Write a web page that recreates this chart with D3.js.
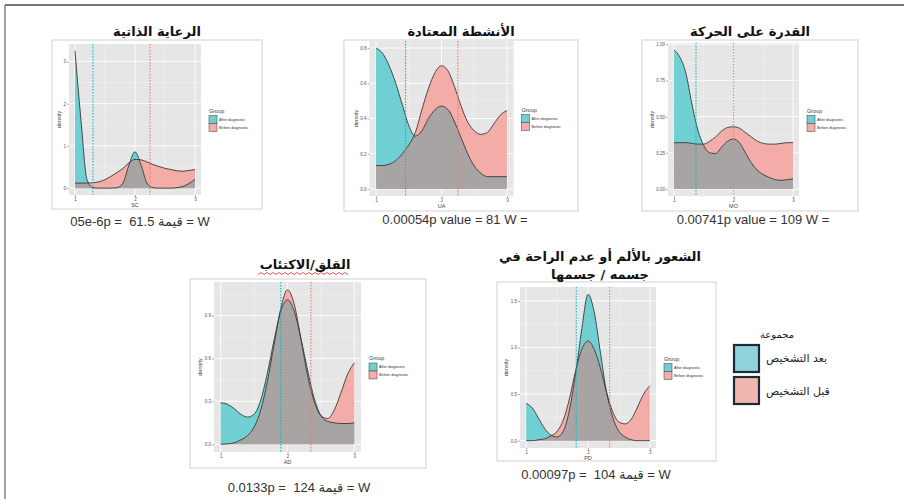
<!DOCTYPE html>
<html>
<head>
<meta charset="utf-8">
<script src="https://cdn.jsdelivr.net/npm/d3@7/dist/d3.min.js"></script>
<style>
  body { margin: 0; background: #fff; }
  svg { display: block; }
</style>
</head>
<body>
<div id="chart"></div>
<script>
// density curves sampled at these x positions (scale 1..3)
const densityX = [1.0, 1.1, 1.2, 1.3, 1.4, 1.5, 1.6, 1.7, 1.8, 1.9, 2.0,
                  2.1, 2.2, 2.3, 2.4, 2.5, 2.6, 2.7, 2.8, 2.9, 3.0];

const scAfter  = [3.25, 1.6, 0.2, 0.01, 0, 0, 0, 0.01, 0.12, 0.55, 0.86, 0.55, 0.12, 0.01, 0, 0, 0, 0.01, 0.04, 0.11, 0.21];
const scBefore = [0.12, 0.12, 0.12, 0.13, 0.15, 0.2, 0.28, 0.37, 0.47, 0.6, 0.68, 0.67, 0.62, 0.56, 0.51, 0.47, 0.44, 0.41, 0.4, 0.42, 0.44];

const uaAfter  = [0.8, 0.77, 0.7, 0.6, 0.48, 0.36, 0.3, 0.33, 0.4, 0.45, 0.47, 0.45, 0.38, 0.29, 0.2, 0.13, 0.09, 0.07, 0.07, 0.07, 0.07];
const uaBefore = [0.133, 0.133, 0.14, 0.16, 0.2, 0.25, 0.32, 0.45, 0.57, 0.66, 0.7, 0.67, 0.58, 0.47, 0.38, 0.33, 0.31, 0.32, 0.37, 0.42, 0.445];

const moAfter  = [0.96, 0.91, 0.8, 0.59, 0.41, 0.3, 0.25, 0.245, 0.29, 0.33, 0.345, 0.32, 0.25, 0.18, 0.13, 0.1, 0.08, 0.065, 0.06, 0.065, 0.07];
const moBefore = [0.32, 0.32, 0.32, 0.315, 0.31, 0.31, 0.33, 0.36, 0.4, 0.425, 0.43, 0.42, 0.39, 0.36, 0.33, 0.315, 0.31, 0.31, 0.315, 0.32, 0.32];

const adAfter  = [0.29, 0.28, 0.25, 0.21, 0.19, 0.21, 0.31, 0.5, 0.73, 0.93, 1.01, 0.93, 0.74, 0.52, 0.32, 0.2, 0.16, 0.15, 0.145, 0.145, 0.15];
const adBefore = [0.0, 0.003, 0.01, 0.03, 0.06, 0.12, 0.24, 0.44, 0.7, 0.95, 1.08, 0.98, 0.74, 0.48, 0.3, 0.2, 0.18, 0.24, 0.36, 0.49, 0.57];

const pdAfter  = [0.4, 0.35, 0.24, 0.13, 0.06, 0.04, 0.1, 0.33, 0.72, 1.2, 1.57, 1.38, 0.95, 0.52, 0.25, 0.1, 0.04, 0.01, 0, 0, 0];
const pdBefore = [0, 0, 0.01, 0.02, 0.05, 0.1, 0.22, 0.45, 0.75, 0.98, 1.07, 0.98, 0.78, 0.52, 0.31, 0.2, 0.18, 0.23, 0.36, 0.5, 0.59];

const axisNames = ['SC', 'UA', 'MO', 'AD', 'PD'];
const panelTitles = [
  ['الرعاية الذاتية'],
  ['الأنشطة المعتادة'],
  ['القدرة على الحركة'],
  ['القلق/الاكتئاب'],
  ['الشعور بالألم أو عدم الراحة في', 'جسمه / جسمها']
];
const captions = [
  '05e-6p =  61.5 قيمة = W',
  '0.00054p value = 81 W =',
  '0.00741p value = 109 W =',
  '0.0133p =  124 قيمة = W',
  '0.00097p =  104 قيمة = W'
];
const meanAfter  = [1.3, 1.45, 1.37, 1.9, 1.81];
const meanBefore = [2.25, 2.25, 2.0, 2.35, 2.35];

const xTicks = [1, 2, 3];
const yTicks = [
  [0, 1, 2, 3],
  [0, 0.2, 0.4, 0.6, 0.8],
  [0, 0.25, 0.5, 0.75, 1],
  [0, 0.3, 0.6, 0.9],
  [0, 0.5, 1, 1.5]
];
const yTickLabels = [
  ['0', '1', '2', '3'],
  ['0.0', '0.2', '0.4', '0.6', '0.8'],
  ['0.00', '0.25', '0.50', '0.75', '1.00'],
  ['0.0', '0.3', '0.6', '0.9'],
  ['0.0', '0.5', '1.0', '1.5']
];
const groupLabels = ['After diagnostic', 'Before diagnostic'];
const legendTitleAr = 'مجموعة';
const legendLabelsAr = ['بعد التشخيص', 'قبل التشخيص'];

const afterSeries = [scAfter, uaAfter, moAfter, adAfter, pdAfter];
const beforeSeries = [scBefore, uaBefore, moBefore, adBefore, pdBefore];

// page positions of each small ggplot image
const layout = [
  {frame: [52, 40, 262, 209], plot: [69, 44, 201, 195], titleX: 157, titleY: 36, capX: 140, capY: 226},
  {frame: [344, 40, 578, 211], plot: [369.5, 41, 513.5, 196], titleX: 461, titleY: 36, capX: 455, capY: 224},
  {frame: [642, 40, 858, 211], plot: [668, 43, 799, 196], titleX: 750, titleY: 36, capX: 753, capY: 224},
  {frame: [190, 279, 426, 468], plot: [214, 282, 361, 452], titleX: 305, titleY: 269, capX: 299, capY: 492},
  {frame: [497, 282, 716, 461], plot: [520, 287, 656, 448], titleX: 600, titleY: 261, capX: 596, capY: 479}
];

const teal = '#00BFC4', pink = '#F8766D';
const tealFill = '#70cfd2', pinkFill = '#f3aca7', overlapFill = '#a9a4a4';

const svg = d3.select('#chart').append('svg')
  .attr('width', 904).attr('height', 499);

svg.append('rect').attr('width', 904).attr('height', 499).attr('fill', '#fff');

// outer page border (top + left)
svg.append('line').attr('x1', 5).attr('x2', 904).attr('y1', 5).attr('y2', 5)
  .attr('stroke', '#4a4a4a').attr('stroke-width', 1.6);
svg.append('line').attr('x1', 5).attr('x2', 5).attr('y1', 5).attr('y2', 499)
  .attr('stroke', '#7a7a7a').attr('stroke-width', 1.4);

function drawPanel(i) {
  const L = layout[i];
  const g = svg.append('g');
  const after = afterSeries[i];
  const before = beforeSeries[i];
  const maxY = d3.max(after.concat(before));

  g.append('rect')
    .attr('x', L.frame[0]).attr('y', L.frame[1])
    .attr('width', L.frame[2] - L.frame[0]).attr('height', L.frame[3] - L.frame[1])
    .attr('fill', '#fff').attr('stroke', '#d2d2d2').attr('stroke-width', 1);

  const x = d3.scaleLinear().domain([0.9, 3.1]).range([L.plot[0], L.plot[2]]);
  const y = d3.scaleLinear().domain([-0.05 * maxY, 1.05 * maxY]).range([L.plot[3], L.plot[1]]);

  g.append('rect')
    .attr('x', L.plot[0]).attr('y', L.plot[1])
    .attr('width', L.plot[2] - L.plot[0]).attr('height', L.plot[3] - L.plot[1])
    .attr('fill', '#e6e6e6');

  // minor grid
  const yt = yTicks[i];
  const step = yt[1] - yt[0];
  const yMinor = yt.map(d => d + step / 2).filter(d => d < y.domain()[1]);
  const xMinor = [1.5, 2.5];
  g.selectAll('.yminor').data(yMinor).enter().append('line')
    .attr('x1', L.plot[0]).attr('x2', L.plot[2])
    .attr('y1', d => y(d)).attr('y2', d => y(d))
    .attr('stroke', '#f4f4f4').attr('stroke-width', 0.5);
  g.selectAll('.xminor').data(xMinor).enter().append('line')
    .attr('y1', L.plot[1]).attr('y2', L.plot[3])
    .attr('x1', d => x(d)).attr('x2', d => x(d))
    .attr('stroke', '#f4f4f4').attr('stroke-width', 0.5);
  // major grid
  g.selectAll('.ymajor').data(yt).enter().append('line')
    .attr('x1', L.plot[0]).attr('x2', L.plot[2])
    .attr('y1', d => y(d)).attr('y2', d => y(d))
    .attr('stroke', '#fff').attr('stroke-width', 0.9);
  g.selectAll('.xmajor').data(xTicks).enter().append('line')
    .attr('y1', L.plot[1]).attr('y2', L.plot[3])
    .attr('x1', d => x(d)).attr('x2', d => x(d))
    .attr('stroke', '#fff').attr('stroke-width', 0.9);

  const pts = densityX.map((d, k) => ({x: d, a: after[k], b: before[k]}));
  const area = key => d3.area()
    .x(d => x(d.x)).y0(y(0)).y1(d => y(d[key]))
    .curve(d3.curveMonotoneX);
  const line = key => d3.line()
    .x(d => x(d.x)).y(d => y(d[key]))
    .curve(d3.curveMonotoneX);

  const clipId = 'clip-before-' + i;
  g.append('clipPath').attr('id', clipId)
    .append('path').attr('d', area('b')(pts));

  g.append('path').attr('d', area('a')(pts)).attr('fill', tealFill);
  g.append('path').attr('d', area('b')(pts)).attr('fill', pinkFill);
  g.append('path').attr('d', area('a')(pts)).attr('fill', overlapFill)
    .attr('clip-path', 'url(#' + clipId + ')');

  ['a', 'b'].forEach(k => {
    g.append('path').attr('d', line(k)(pts))
      .attr('fill', 'none').attr('stroke', '#3a3a3a').attr('stroke-width', 0.9);
  });

  // mean lines
  [[meanAfter[i], teal], [meanBefore[i], pink]].forEach(([m, c]) => {
    g.append('line')
      .attr('x1', x(m)).attr('x2', x(m))
      .attr('y1', L.plot[1]).attr('y2', L.plot[3])
      .attr('stroke', c).attr('stroke-width', 1.1)
      .attr('stroke-dasharray', '1.6,1.4');
  });

  // axes
  const yAxis = g.append('g')
    .attr('transform', 'translate(' + L.plot[0] + ',0)')
    .call(d3.axisLeft(y).tickValues(yt)
      .tickFormat((d, k) => yTickLabels[i][k]).tickSize(2).tickPadding(1));
  const xAxis = g.append('g')
    .attr('transform', 'translate(0,' + L.plot[3] + ')')
    .call(d3.axisBottom(x).tickValues(xTicks).tickFormat(d3.format('d'))
      .tickSize(2).tickPadding(1));
  [yAxis, xAxis].forEach(a => {
    a.select('.domain').remove();
    a.selectAll('.tick line').attr('stroke', '#555').attr('stroke-width', 0.5);
    a.selectAll('.tick text').attr('fill', '#555')
      .style('font-family', '"Liberation Sans", Arial, sans-serif')
      .style('font-size', '4.5px');
  });

  const yb = yAxis.node().getBBox();
  g.append('text')
    .attr('transform', 'translate(' + (L.plot[0] + yb.x - 2.5) + ',' + ((L.plot[1] + L.plot[3]) / 2) + ') rotate(-90)')
    .attr('text-anchor', 'middle')
    .attr('fill', '#444')
    .style('font-family', '"Liberation Sans", Arial, sans-serif')
    .style('font-size', '5.5px')
    .text('density');
  g.append('text')
    .attr('x', x(2)).attr('y', L.plot[3] + 12)
    .attr('text-anchor', 'middle').attr('fill', '#444')
    .style('font-family', '"Liberation Sans", Arial, sans-serif')
    .style('font-size', '5.5px')
    .text(axisNames[i]);

  // small ggplot legend
  const lx = L.plot[2] + 8;
  const cy = (L.plot[1] + L.plot[3]) / 2;
  g.append('text')
    .attr('x', lx).attr('y', cy - 7)
    .attr('fill', '#444')
    .style('font-family', '"Liberation Sans", Arial, sans-serif')
    .style('font-size', '5.5px')
    .text('Group');
  [tealFill, pinkFill].forEach((c, k) => {
    g.append('rect')
      .attr('x', lx).attr('y', cy - 4 + k * 8)
      .attr('width', 8).attr('height', 8)
      .attr('fill', c).attr('stroke', '#3a3a3a').attr('stroke-width', 0.5);
    g.append('text')
      .attr('x', lx + 10).attr('y', cy + 1.3 + k * 8)
      .attr('fill', '#333')
      .style('font-family', '"Liberation Sans", Arial, sans-serif')
      .style('font-size', '3.8px')
      .text(groupLabels[k]);
  });

  // Arabic title
  const lines = panelTitles[i];
  lines.forEach((t, k) => {
    g.append('text')
      .attr('x', L.titleX).attr('y', L.titleY + k * 18)
      .attr('text-anchor', 'middle')
      .attr('fill', '#111')
      .style('font-family', '"DejaVu Sans", sans-serif')
      .style('font-weight', 'bold')
      .style('font-size', '13px')
      .text(t);
  });

  // statistics caption
  g.append('text')
    .attr('x', L.capX).attr('y', L.capY)
    .attr('text-anchor', 'middle')
    .attr('fill', '#333')
    .style('font-family', '"Liberation Sans", "DejaVu Sans", sans-serif')
    .style('font-size', '13px')
    .style('white-space', 'pre')
    .text(captions[i]);
}

d3.range(5).forEach(drawPanel);

// spell-check squiggle under the AD title
const squiggle = d3.range(0, 31).map(k => [258 + k * 3, 273.5 + (k % 2 ? -1 : 1)]);
svg.append('path')
  .attr('d', d3.line()(squiggle))
  .attr('fill', 'none').attr('stroke', '#e0302a').attr('stroke-width', 0.8);

// large Arabic legend on the right
const legend = svg.append('g');
legend.append('text')
  .attr('x', 777).attr('y', 338)
  .attr('text-anchor', 'middle').attr('fill', '#222')
  .style('font-family', '"DejaVu Sans", sans-serif')
  .style('font-size', '10px')
  .text(legendTitleAr);
[tealFill, pinkFill].forEach((c, k) => {
  legend.append('rect')
    .attr('x', 734).attr('y', 345 + k * 32)
    .attr('width', 25).attr('height', 27)
    .attr('fill', k ? '#f0b7af' : '#8fd2da')
    .attr('stroke', '#1d2a38').attr('stroke-width', 2.2);
  legend.append('text')
    .attr('x', 766).attr('y', 362 + k * 33)
    .attr('fill', '#222')
    .style('font-family', '"DejaVu Sans", sans-serif')
    .style('font-size', '11px')
    .text(legendLabelsAr[k]);
});
</script>
</body>
</html>
